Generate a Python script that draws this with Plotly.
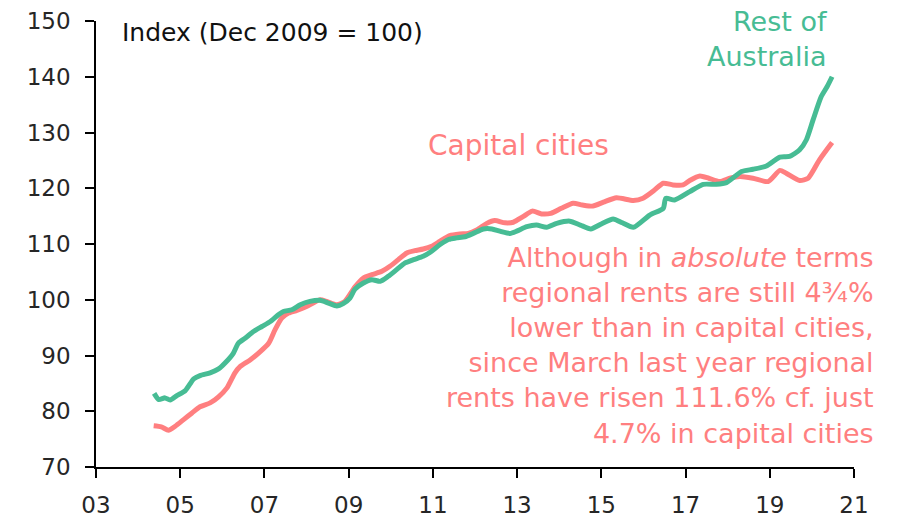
import plotly.graph_objects as go

# Capital cities rent index (Dec 2009 = 100), decimal-year dates
cap_years = [2004.37, 2004.55, 2004.72, 2004.88, 2005.08, 2005.28, 2005.47, 2005.71, 2005.91,
             2006.11, 2006.30, 2006.42, 2006.66, 2006.90, 2007.10, 2007.25, 2007.41, 2007.57,
             2007.77, 2008.00, 2008.32, 2008.48, 2008.72, 2008.91, 2009.15, 2009.35, 2009.55,
             2009.79, 2009.98, 2010.18, 2010.38, 2010.57, 2010.77, 2010.97, 2011.17, 2011.40,
             2011.64, 2011.84, 2012.04, 2012.28, 2012.47, 2012.71, 2012.91, 2013.14, 2013.36,
             2013.58, 2013.80, 2014.05, 2014.33, 2014.55, 2014.80, 2015.05, 2015.36, 2015.76,
             2015.99, 2016.25, 2016.47, 2016.70, 2016.94, 2017.10, 2017.34, 2017.55, 2017.81,
             2018.05, 2018.29, 2018.60, 2018.96, 2019.24, 2019.39, 2019.71, 2019.91, 2020.18,
             2020.48]
cap_index = [77.4, 77.2, 76.6, 77.3, 78.5, 79.7, 80.8, 81.5, 82.6,
             84.2, 86.9, 88.0, 89.2, 90.7, 92.2, 94.6, 96.7, 97.6,
             98.1, 98.8, 100.0, 99.7, 99.1, 99.7, 102.3, 103.9, 104.5,
             105.1, 106.0, 107.2, 108.4, 108.8, 109.1, 109.6, 110.5, 111.5,
             111.8, 111.9, 112.5, 113.7, 114.2, 113.8, 113.9, 114.9, 115.9,
             115.4, 115.5, 116.4, 117.3, 117.0, 116.8, 117.5, 118.3, 117.8,
             118.2, 119.6, 120.9, 120.6, 120.6, 121.4, 122.2, 121.8, 121.2,
             121.8, 122.1, 121.8, 121.2, 123.2, 122.7, 121.4, 121.8, 125.1,
             128.2]

# Rest of Australia rent index (Dec 2009 = 100)
roa_years = [2004.38, 2004.49, 2004.64, 2004.76, 2004.92, 2005.12, 2005.32, 2005.47, 2005.71,
             2005.91, 2006.07, 2006.26, 2006.38, 2006.54, 2006.74, 2006.94, 2007.14, 2007.33,
             2007.45, 2007.65, 2007.85, 2008.08, 2008.32, 2008.52, 2008.72, 2008.87, 2009.03,
             2009.15, 2009.35, 2009.55, 2009.75, 2009.94, 2010.14, 2010.34, 2010.54, 2010.77,
             2010.97, 2011.17, 2011.37, 2011.56, 2011.76, 2011.96, 2012.20, 2012.40, 2012.59,
             2012.83, 2012.99, 2013.23, 2013.46, 2013.70, 2013.94, 2014.25, 2014.50, 2014.75,
             2015.00, 2015.28, 2015.50, 2015.76, 2016.15, 2016.47, 2016.53, 2016.74, 2017.10,
             2017.42, 2017.73, 2017.97, 2018.33, 2018.60, 2018.92, 2019.24, 2019.47, 2019.71,
             2019.87, 2020.03, 2020.22, 2020.36, 2020.48]
roa_index = [83.2, 82.1, 82.4, 82.0, 82.8, 83.7, 85.8, 86.4, 86.9,
             87.6, 88.7, 90.4, 92.2, 93.1, 94.3, 95.2, 96.1, 97.3,
             97.9, 98.2, 99.1, 99.7, 99.9, 99.4, 98.9, 99.3, 100.3,
             101.9, 103.0, 103.6, 103.3, 104.2, 105.4, 106.6, 107.2, 107.8,
             108.7, 109.9, 110.8, 111.1, 111.3, 111.9, 112.7, 112.7, 112.3,
             111.9, 112.3, 113.1, 113.4, 113.0, 113.7, 114.1, 113.4, 112.7,
             113.6, 114.5, 113.8, 113.0, 115.2, 116.4, 118.2, 117.9, 119.4,
             120.7, 120.7, 121.0, 123.0, 123.4, 124.0, 125.6, 125.7, 126.9,
             128.7, 132.3, 136.4, 138.2, 140.0]

x_tick_vals = [2003, 2005, 2007, 2009, 2011, 2013, 2015, 2017, 2019, 2021]
x_tick_text = ["03", "05", "07", "09", "11", "13", "15", "17", "19", "21"]

RED = "#FF7F80"
GREEN = "#47BC94"
INK = "#262626"
FONT = "DejaVu Sans"

fig = go.Figure()
fig.add_trace(go.Scatter(x=cap_years, y=cap_index, mode="lines", name="Capital cities",
                         line=dict(color=RED, width=5, shape="spline", smoothing=0.6)))
fig.add_trace(go.Scatter(x=roa_years, y=roa_index, mode="lines", name="Rest of Australia",
                         line=dict(color=GREEN, width=5, shape="spline", smoothing=0.6)))

fig.add_annotation(x=2003.57, y=147.85, xref="x", yref="y", text="Index (Dec 2009 = 100)",
                   showarrow=False, xanchor="left", yanchor="middle",
                   font=dict(family=FONT, size=25, color="#111111"))
fig.add_annotation(x=2013.04, y=127.6, xref="x", yref="y", text="Capital cities",
                   showarrow=False, xanchor="center", yanchor="middle",
                   font=dict(family=FONT, size=28, color=RED))
fig.add_annotation(x=2020.42, y=146.8, xref="x", yref="y", text="Rest of<br>Australia",
                   showarrow=False, xanchor="right", yanchor="middle", align="right",
                   font=dict(family=FONT, size=27, color=GREEN))
# Commentary block sits just past the right end of the x axis, so place it in paper units
fig.add_annotation(x=1.029, y=0.2735, xref="paper", yref="paper",
                   text=("Although in <i>absolute</i> terms<br>regional rents are still 4¾%<br>"
                         "lower than in capital cities,<br>since March last year regional<br>"
                         "rents have risen 111.6% cf. just<br>4.7% in capital cities"),
                   showarrow=False, xanchor="right", yanchor="middle", align="right",
                   font=dict(family=FONT, size=27, color=RED))

fig.update_layout(
    width=906, height=520,
    margin=dict(l=96, r=52, t=21, b=53, autoexpand=False),
    paper_bgcolor="white", plot_bgcolor="white",
    showlegend=False,
    font=dict(family=FONT, size=23, color=INK),
)
axis_style = dict(showgrid=False, zeroline=False, showline=True, linecolor="black", linewidth=1.5,
                  ticks="outside", ticklen=9, tickcolor="black", tickwidth=1.5, automargin=False,
                  tickfont=dict(family=FONT, size=23, color=INK))
fig.update_xaxes(range=[2003, 2021], tickvals=x_tick_vals, ticktext=x_tick_text,
                 ticklabelstandoff=8, **axis_style)
fig.update_yaxes(range=[70, 150], dtick=10, tick0=70, ticklabelstandoff=10, **axis_style)

fig.write_html("out.html")
